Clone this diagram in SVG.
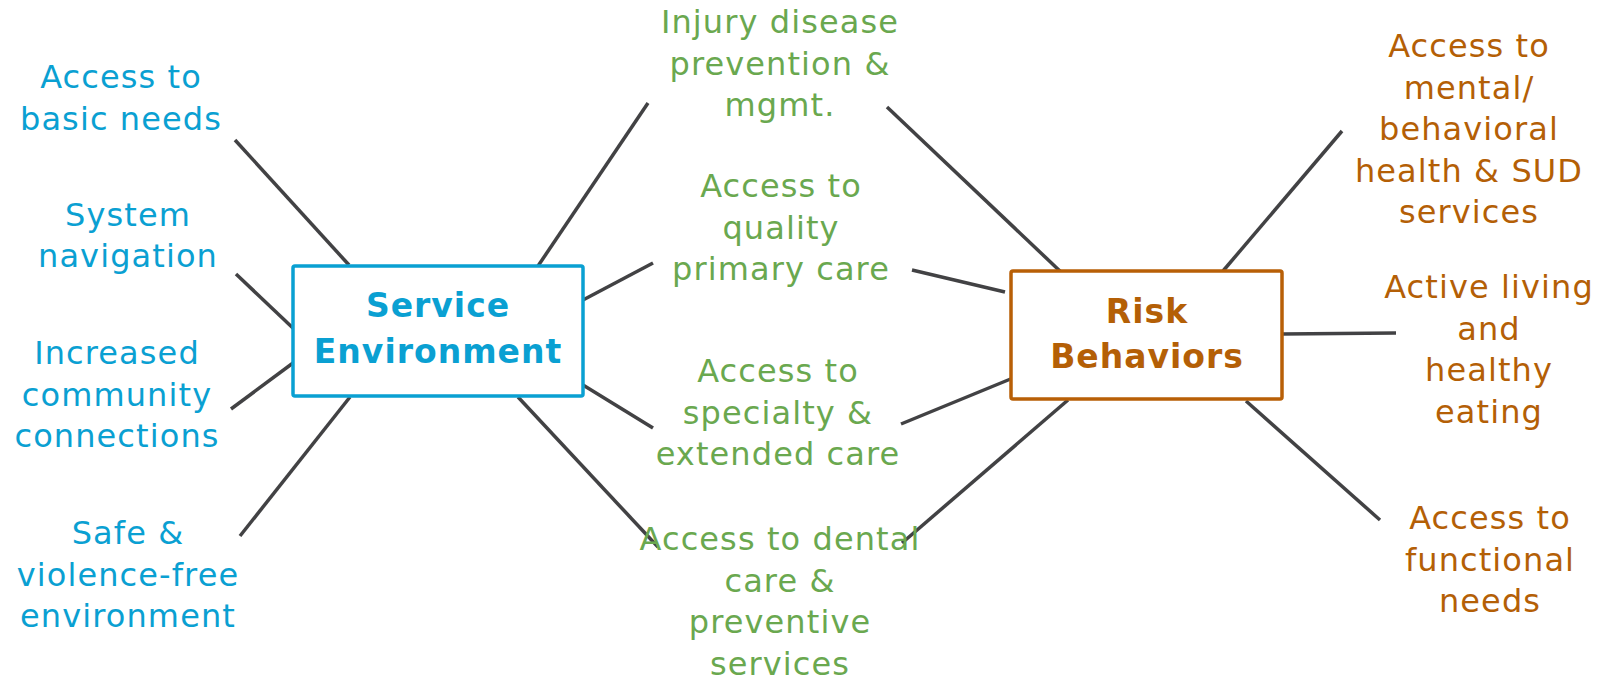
<svg xmlns="http://www.w3.org/2000/svg" width="1606" height="680" viewBox="0 0 1606 680">
<style>
text{font-family:"DejaVu Sans","Noto Sans",sans-serif;text-anchor:middle}
.lbl{font-size:32px;letter-spacing:1.1px}
.ttl{font-size:33px;font-weight:bold;letter-spacing:1px}
.blue{fill:#0aa0d2}
.green{fill:#6aa84f}
.orange{fill:#b45f06}
.box{fill:#fff;stroke-width:3.5}
#connectors line{stroke:#424244;stroke-width:3.5;stroke-linecap:butt}
</style>
<rect width="1606" height="680" fill="#fff"/>
<g id="connectors">
<line x1="235" y1="140" x2="349" y2="265"/>
<line x1="236" y1="274" x2="295" y2="330"/>
<line x1="231" y1="409" x2="293" y2="363"/>
<line x1="240" y1="536" x2="350" y2="397"/>
<line x1="538" y1="266" x2="648" y2="103"/>
<line x1="583" y1="300" x2="653" y2="263"/>
<line x1="583" y1="385" x2="653" y2="428"/>
<line x1="518" y1="397" x2="658" y2="547"/>
<line x1="887" y1="107" x2="1062" y2="273"/>
<line x1="912" y1="270" x2="1005" y2="292"/>
<line x1="901" y1="424" x2="1013" y2="378"/>
<line x1="902" y1="543" x2="1068" y2="400"/>
<line x1="1223" y1="271" x2="1342" y2="131"/>
<line x1="1282" y1="334" x2="1396" y2="333"/>
<line x1="1246" y1="401" x2="1380" y2="520"/>
</g>
<g id="service-environment">
<rect class="box" x="293" y="266" width="290" height="130" rx="2" stroke="#0aa0d2"/>
<text class="ttl blue" x="438" y="317">Service</text>
<text class="ttl blue" x="438" y="363">Environment</text>
</g>
<g id="risk-behaviors">
<rect class="box" x="1011" y="271" width="271" height="128" rx="2" stroke="#b85f06"/>
<text class="ttl orange" x="1147" y="323">Risk</text>
<text class="ttl orange" x="1147" y="368">Behaviors</text>
</g>
<g id="basic-needs">
<text class="lbl blue" x="121" y="88">Access to</text>
<text class="lbl blue" x="121" y="130">basic needs</text>
</g>
<g id="system-navigation">
<text class="lbl blue" x="128" y="226">System</text>
<text class="lbl blue" x="128" y="267">navigation</text>
</g>
<g id="community-connections">
<text class="lbl blue" x="117" y="364">Increased</text>
<text class="lbl blue" x="117" y="405.5">community</text>
<text class="lbl blue" x="117" y="447">connections</text>
</g>
<g id="safe-environment">
<text class="lbl blue" x="128" y="544">Safe &amp;</text>
<text class="lbl blue" x="128" y="585.5">violence-free</text>
<text class="lbl blue" x="128" y="627">environment</text>
</g>
<g id="injury-prevention">
<text class="lbl green" x="780" y="33">Injury disease</text>
<text class="lbl green" x="780" y="74.5">prevention &amp;</text>
<text class="lbl green" x="780" y="116">mgmt.</text>
</g>
<g id="primary-care">
<text class="lbl green" x="781" y="197">Access to</text>
<text class="lbl green" x="781" y="238.5">quality</text>
<text class="lbl green" x="781" y="280">primary care</text>
</g>
<g id="specialty-care">
<text class="lbl green" x="778" y="382">Access to</text>
<text class="lbl green" x="778" y="423.5">specialty &amp;</text>
<text class="lbl green" x="778" y="465">extended care</text>
</g>
<g id="dental-care">
<text class="lbl green" x="780" y="550">Access to dental</text>
<text class="lbl green" x="780" y="591.5">care &amp;</text>
<text class="lbl green" x="780" y="633">preventive</text>
<text class="lbl green" x="780" y="674.5">services</text>
</g>
<g id="mental-health">
<text class="lbl orange" x="1469" y="57">Access to</text>
<text class="lbl orange" x="1469" y="98.5">mental/</text>
<text class="lbl orange" x="1469" y="140">behavioral</text>
<text class="lbl orange" x="1469" y="181.5">health &amp; SUD</text>
<text class="lbl orange" x="1469" y="223">services</text>
</g>
<g id="active-living">
<text class="lbl orange" x="1489" y="298">Active living</text>
<text class="lbl orange" x="1489" y="339.5">and</text>
<text class="lbl orange" x="1489" y="381">healthy</text>
<text class="lbl orange" x="1489" y="422.5">eating</text>
</g>
<g id="functional-needs">
<text class="lbl orange" x="1490" y="529">Access to</text>
<text class="lbl orange" x="1490" y="570.5">functional</text>
<text class="lbl orange" x="1490" y="612">needs</text>
</g>
</svg>
